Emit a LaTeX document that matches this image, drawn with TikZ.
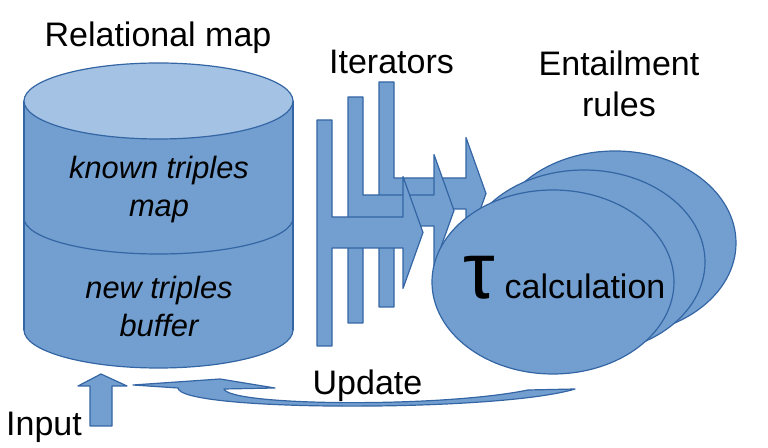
\documentclass[tikz,border=0pt]{standalone}
\usepackage{fontspec}
\setmainfont{Liberation Sans}
\definecolor{boxblue}{HTML}{729FCF}
\definecolor{topblue}{HTML}{A4C2E4}
\definecolor{edgeblue}{HTML}{3465A4}
\begin{document}
\begin{tikzpicture}[x=0.5pt, y=-0.5pt, line join=round, line cap=round,
	blueshape/.style={fill=boxblue, draw=edgeblue, line width=0.6pt},
	edge/.style={draw=edgeblue, line width=0.6pt},
	lbl/.style={font=\fontsize{17}{20.4}\selectfont, align=center, anchor=base, inner sep=0pt},
	inlbl/.style={font=\fontsize{15.4}{19}\selectfont\itshape, align=center, anchor=base, inner sep=0pt}]
	\useasboundingbox (0,0) rectangle (768,448);
	% relational map
	\path (158.5,101) coordinate (T)
	(158.5,218) coordinate (M)
	(158.5,330) coordinate (B);
	\draw[blueshape] (B) ellipse[x radius=134.5, y radius=38];
	\fill[boxblue] (24,101) rectangle (293,330);
	\draw[edge] (24,101)--(24,330) (293,101)--(293,330);
	\begin{scope}
		\clip (20,218) rectangle (297,262);
		\draw[edge] (M) ellipse[x radius=134.5, y radius=36];
	\end{scope}
	\draw[blueshape, fill=topblue] (T) ellipse[x radius=134.5, y radius=38];
	% iterators
	\foreach \b/\bt/\bb/\m/\h in {379/82/307/193.5/466, 348/97/323/210.5/434, 317/120/346/232.5/403}{
		\draw[blueshape] (\b,\bt) -- ++(15,0) |- (\h,\m-15.5) -- (\h,\m-56) -- (\h+20,\m)
		-- (\h,\m+56) -- (\h,\m+15.5) -| (\b+15,\bb) -- (\b,\bb) -- cycle;}
	% entailment rules
	\foreach \dx/\dy in {62/-39, 31/-20, 0/0}
		\draw[blueshape] (553+\dx,282+\dy) ellipse[x radius=121, y radius=92];
	% update and input
	\draw[blueshape] (133,385) -- (220,379) -- (275,388) -- (224,389)
	.. controls (230,406) and (440,408) .. (528,390) -- (575,389)
	.. controls (500,412) and (180,412) .. (178,388) -- cycle;
	\draw[blueshape] (101,374) -- (127,386) -- (112,386) -- (112,426)
	-- (90,426) -- (90,386) -- (78,386) -- cycle;
	% texts
	\node[lbl] (relmap) at (158,46.5) {Relational map};
	\node[lbl] (iters) at (391.5,74) {Iterators};
	\node[lbl] (rules) at (619,116.7) {Entailment\\rules};
	\node[inlbl] (known) at (159,217) {known triples\\map};
	\node[inlbl] (new) at (159,337) {new triples\\buffer};
	\node[lbl] (calc) at (564.5,299) {{\fontsize{40}{40}\selectfont τ} calculation};
	\node[lbl] (update) at (367.5,395) {Update};
	\node[lbl] (input) at (44,436) {Input};
\end{tikzpicture}
\end{document}
